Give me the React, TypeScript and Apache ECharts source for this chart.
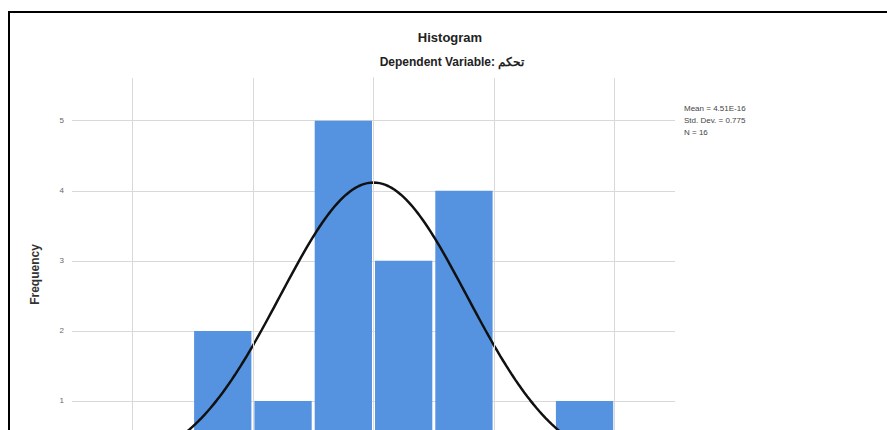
import React, { useEffect, useRef } from "react";
import * as echarts from "echarts";

// Histogram of residuals: bin lower edges and frequencies
const binStarts = [-1.5, -1.0, -0.5, 0.0, 0.5, 1.5];
const binCounts = [2, 1, 5, 3, 4, 1];
const binWidth = 0.5;

// Summary statistics printed beside the plot
const statMean = 4.51e-16;
const statStdDev = 0.775;
const statN = 16;
const statLines = ["Mean = 4.51E-16", "Std. Dev. = 0.775", "N = 16"];

// Axis settings
const xGridValues = [-2, -1, 0, 1, 2];
const yTickLabels = [1, 2, 3, 4, 5];

const titleText = "Histogram";
const subtitleText = "Dependent Variable: تحكم";
const yAxisName = "Frequency";

// Normal density scaled to counts (N * bin width)
function normalCurve(): number[][] {
  const pts: number[][] = [];
  const scale = statN * binWidth;
  for (let i = 0; i <= 200; i++) {
    const x = -2.5 + (5 * i) / 200;
    const z = (x - statMean) / statStdDev;
    const y = (scale / (statStdDev * Math.sqrt(2 * Math.PI))) * Math.exp(-0.5 * z * z);
    pts.push([x, y]);
  }
  return pts;
}

export default function App() {
  const ref = useRef<HTMLDivElement>(null);

  useEffect(() => {
    document.body.style.margin = "0";
    if (!ref.current) return;
    const chart = echarts.init(ref.current, undefined, { renderer: "svg" });
    const font = "Liberation Sans, Arial, sans-serif";
    const barData = binStarts.map((s, i) => [s, s + binWidth, binCounts[i]]);

    chart.setOption({
      animation: false,
      backgroundColor: "#ffffff",
      grid: { left: 72, right: 212, top: 78, bottom: 49, containLabel: false },
      xAxis: {
        type: "value",
        min: -2.5,
        max: 2.5,
        axisLine: { show: false },
        axisTick: { show: false },
        axisLabel: { show: false },
        splitLine: { show: false },
      },
      yAxis: {
        type: "value",
        min: 0,
        max: 5.61,
        interval: 1,
        axisLine: { show: true, lineStyle: { color: "#b8b8b8", width: 1 } },
        axisTick: { show: false },
        axisLabel: {
          color: "#666",
          fontSize: 8,
          fontFamily: font,
          margin: 8,
          showMaxLabel: false,
          showMinLabel: false,
          formatter: (v: number) => (yTickLabels.indexOf(v) >= 0 ? String(v) : ""),
        },
        splitLine: {
          show: true,
          showMaxLine: false,
          lineStyle: { color: "#d9d9d9", width: 1 },
        },
        name: yAxisName,
        nameLocation: "middle",
        nameGap: 31,
        nameTextStyle: { fontSize: 12, fontWeight: "bold", color: "#333", fontFamily: font },
      },
      series: [
        {
          type: "line",
          data: [],
          silent: true,
          markLine: {
            symbol: "none",
            silent: true,
            label: { show: false },
            lineStyle: { color: "#d9d9d9", width: 1, type: "solid" },
            data: xGridValues.map((v) => ({ xAxis: v })),
          },
          z: 1,
        },
        {
          type: "custom",
          data: barData,
          z: 2,
          renderItem: (params: any, api: any) => {
            const x0 = api.value(0);
            const x1 = api.value(1);
            const c = api.value(2);
            const p0 = api.coord([x0, c]);
            const p1 = api.coord([x1, 0]);
            const inset = 1.5;
            return {
              type: "rect",
              shape: {
                x: p0[0] + inset,
                y: p0[1],
                width: p1[0] - p0[0] - inset * 2,
                height: p1[1] - p0[1],
              },
              style: { fill: "#5593e1" },
            };
          },
        },
        {
          type: "line",
          data: normalCurve(),
          showSymbol: false,
          smooth: false,
          lineStyle: { color: "#111", width: 2.5 },
          z: 3,
          silent: true,
        },
      ],
      graphic: [
        {
          type: "rect",
          shape: { x: 9, y: 12, width: 900, height: 600 },
          style: { fill: "none", stroke: "#000", lineWidth: 2 },
          silent: true,
        },
        {
          type: "text",
          x: 450,
          y: 37,
          style: {
            text: titleText,
            fontSize: 13,
            fontWeight: "bold",
            fill: "#222",
            fontFamily: font,
            textAlign: "center",
            textVerticalAlign: "middle",
          },
        },
        {
          type: "text",
          x: 452,
          y: 62,
          style: {
            text: subtitleText,
            fontSize: 12,
            fontWeight: "bold",
            fill: "#222",
            fontFamily: font,
            textAlign: "center",
            textVerticalAlign: "middle",
          },
        },
        ...statLines.map((t, i) => ({
          type: "text",
          x: 684,
          y: 108 + i * 12,
          style: {
            text: t,
            fontSize: 8,
            fill: "#444",
            fontFamily: font,
            textAlign: "left",
            textVerticalAlign: "middle",
          },
        })),
      ],
    });

    return () => chart.dispose();
  }, []);

  return (
    <div style={{ width: 887, height: 430, overflow: "hidden", position: "relative" }}>
      <div ref={ref} style={{ width: 887, height: 520 }} />
    </div>
  );
}
